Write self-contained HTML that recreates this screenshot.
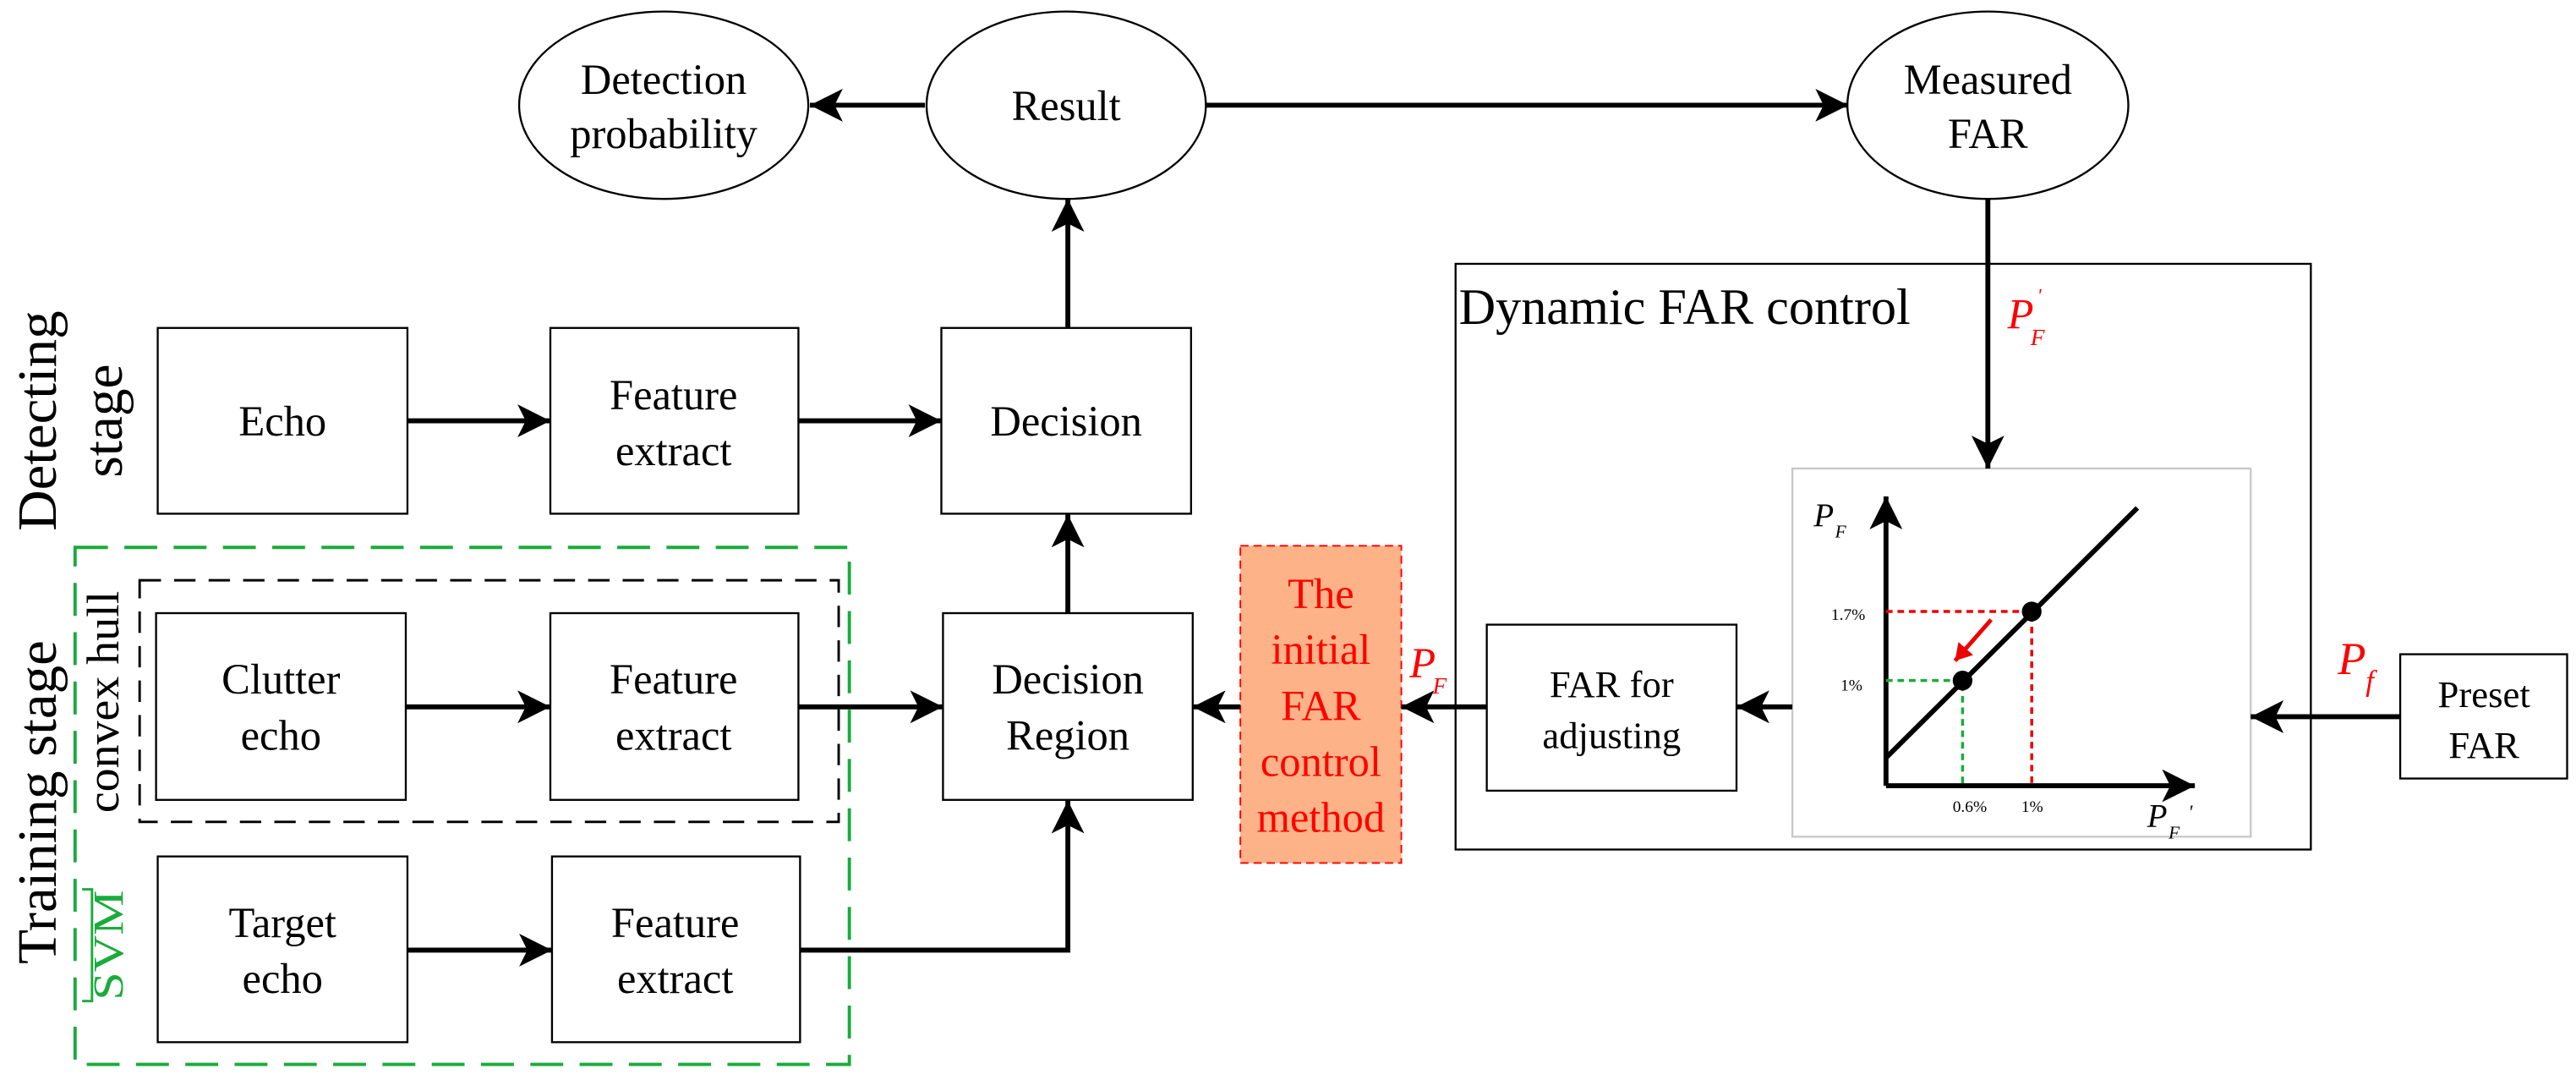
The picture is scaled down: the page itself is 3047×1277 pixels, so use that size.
<!DOCTYPE html>
<html><head><meta charset="utf-8"><style>
html,body{margin:0;padding:0;background:#fff;}
svg{display:block;}
text{font-family:"Liberation Serif",serif;}
</style></head><body>
<svg width="3047" height="1277" viewBox="0 0 1568 657" preserveAspectRatio="none" xmlns="http://www.w3.org/2000/svg" font-family="Liberation Serif, serif">
<defs>
<marker id="a" markerUnits="userSpaceOnUse" markerWidth="22" markerHeight="20" refX="20" refY="10" orient="auto">
<path d="M0,0 L20,10 L0,20 L5,10 Z" fill="#000"/></marker>
<marker id="r" markerUnits="userSpaceOnUse" markerWidth="12" markerHeight="12" refX="10" refY="6" orient="auto">
<path d="M0,0 L10,6 L0,12 Z" fill="#e00"/></marker>
</defs>
<g fill="none" stroke="#000" stroke-width="1.2">
<ellipse cx="404" cy="64" rx="88" ry="57"/>
<ellipse cx="649" cy="64" rx="85" ry="57"/>
<ellipse cx="1210" cy="64" rx="85.5" ry="57"/>
<rect x="96" y="199.5" width="152" height="113"/>
<rect x="335" y="199.5" width="151" height="113"/>
<rect x="573" y="199.5" width="152" height="113"/>
<rect x="95" y="373" width="152" height="113.6"/>
<rect x="335" y="373" width="151" height="113.6"/>
<rect x="574" y="373" width="152" height="113.6"/>
<rect x="96" y="521" width="152" height="113"/>
<rect x="336" y="521" width="151" height="113"/>
<rect x="886" y="160.5" width="520.6" height="356.3"/>
<rect x="905" y="380" width="152" height="101"/>
<rect x="1461" y="398" width="101.6" height="75.6"/>
</g>
<rect x="1091" y="285" width="279" height="224" fill="none" stroke="#c8c8c8" stroke-width="1.2"/>
<rect x="85" y="353" width="425.5" height="147" fill="none" stroke="#000" stroke-width="1.5" stroke-dasharray="13,8"/>
<rect x="45.7" y="333" width="471.3" height="314.5" fill="none" stroke="#1aab3c" stroke-width="2" stroke-dasharray="20,10"/>
<rect x="755" y="332" width="98" height="193" fill="#fdb387" stroke="#f00" stroke-width="1" stroke-dasharray="5,3"/>
<g stroke="#000" stroke-width="3" fill="none" marker-end="url(#a)">
<line x1="563" y1="64" x2="493" y2="64"/>
<line x1="734" y1="64" x2="1125" y2="64"/>
<line x1="650" y1="199" x2="650" y2="121"/>
<line x1="248" y1="256" x2="335" y2="256"/>
<line x1="486" y1="256" x2="573" y2="256"/>
<line x1="247" y1="430" x2="335" y2="430"/>
<line x1="486" y1="430" x2="574" y2="430"/>
<line x1="650" y1="373" x2="650" y2="313"/>
<line x1="248" y1="578" x2="336" y2="578"/>
<polyline points="487,578 650,578 650,487"/>
<line x1="755" y1="430" x2="726" y2="430"/>
<line x1="1210" y1="121" x2="1210" y2="285"/>
<line x1="1091" y1="430" x2="1057" y2="430"/>
<line x1="905" y1="430" x2="853" y2="430"/>
<line x1="1461" y1="436" x2="1370" y2="436"/>
<line x1="1148" y1="478" x2="1148" y2="302"/>
<line x1="1148" y1="478" x2="1336" y2="478"/>
</g>
<line x1="1148" y1="461" x2="1301" y2="309" stroke="#000" stroke-width="3"/>
<g stroke-width="1.8" stroke-dasharray="4,3" fill="none">
<polyline points="1148,372 1236.7,372 1236.7,478" stroke="#e00"/>
<polyline points="1148,414 1194.6,414 1194.6,478" stroke="#1aab3c"/>
</g>
<line x1="1212" y1="377" x2="1190" y2="402" stroke="#e00" stroke-width="2.5" marker-end="url(#r)"/>
<circle cx="1236.7" cy="372" r="6" fill="#000"/>
<circle cx="1194.6" cy="414" r="6" fill="#000"/>
<g font-size="26" text-anchor="middle" fill="#000">
<text x="404" y="57">Detection</text><text x="404" y="90">probability</text>
<text x="649" y="73">Result</text>
<text x="1210" y="57">Measured</text><text x="1210" y="90">FAR</text>
<text x="172" y="265">Echo</text>
<text x="410" y="249">Feature</text><text x="410" y="283">extract</text>
<text x="649" y="265">Decision</text>
<text x="171" y="422">Clutter</text><text x="171" y="456">echo</text>
<text x="410" y="422">Feature</text><text x="410" y="456">extract</text>
<text x="650" y="422">Decision</text><text x="650" y="456">Region</text>
<text x="172" y="570">Target</text><text x="172" y="604">echo</text>
<text x="411" y="570">Feature</text><text x="411" y="604">extract</text>
<text x="981" y="424" font-size="23">FAR for</text><text x="981" y="455" font-size="23">adjusting</text>
<text x="1512" y="430" font-size="23">Preset</text><text x="1512" y="461" font-size="23">FAR</text>
<g fill="#f00"><text x="804" y="370">The</text><text x="804" y="404">initial</text><text x="804" y="438">FAR</text><text x="804" y="472">control</text><text x="804" y="506">method</text></g>
</g>
<text x="888" y="197" font-size="31">Dynamic FAR control</text>
<g text-anchor="middle">
<text transform="translate(34,256) rotate(-90)" font-size="34" textLength="134" lengthAdjust="spacingAndGlyphs">Detecting</text>
<text transform="translate(74,256) rotate(-90)" font-size="34" textLength="69" lengthAdjust="spacingAndGlyphs">stage</text>
<text transform="translate(34,488) rotate(-90)" font-size="34" textLength="197" lengthAdjust="spacingAndGlyphs">Training stage</text>
<text transform="translate(72,427) rotate(-90)" font-size="28" textLength="135" lengthAdjust="spacingAndGlyphs">convex hull</text>
<text transform="translate(75,575) rotate(-90)" font-size="26" fill="#1aab3c" textLength="67" lengthAdjust="spacingAndGlyphs">SVM</text>
</g>
<polyline points="50,541 56,541 56,609 50,609" fill="none" stroke="#1aab3c" stroke-width="1.5"/>
<polyline points="79,541 73,541 73,609 79,609" fill="none" stroke="#1aab3c" stroke-width="1.5" opacity="0"/>
<g font-style="italic" fill="#f00">
<text x="1222" y="200" font-size="26">P</text><text x="1236" y="210" font-size="14">F</text><text x="1240" y="184" font-size="12">'</text>
<text x="858" y="412" font-size="26">P</text><text x="872" y="422" font-size="14">F</text>
<text x="1423" y="410" font-size="28">P</text><text x="1440" y="420" font-size="18">f</text>
</g>
<g font-style="italic" fill="#000">
<text x="1104" y="320" font-size="20">P</text><text x="1117" y="327" font-size="11">F</text>
<text x="1307" y="503" font-size="20">P</text><text x="1320" y="510" font-size="11">F</text><text x="1332" y="498" font-size="12">'</text>
</g>
<g font-size="10" fill="#000" style="font-family:'Liberation Sans',sans-serif">
<text x="1125" y="377" text-anchor="middle">1.7%</text>
<text x="1127" y="420" text-anchor="middle">1%</text>
<text x="1199" y="494" text-anchor="middle">0.6%</text>
<text x="1237" y="494" text-anchor="middle">1%</text>
</g>
</svg>
</body></html>
